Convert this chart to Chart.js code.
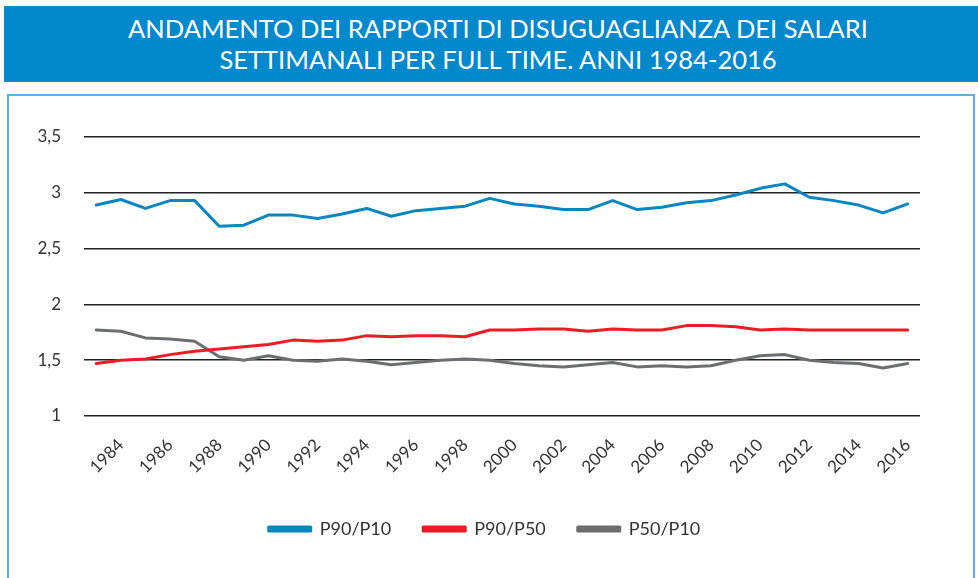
<!DOCTYPE html>
<html>
<head>
<meta charset="utf-8">
<script src="https://cdn.jsdelivr.net/npm/chart.js@4"></script>
<style>
  html, body { margin: 0; padding: 0; background: #fff; }
  body { width: 978px; height: 578px; position: relative; overflow: hidden; font-family: Lato, sans-serif; }
  #header {
    position: absolute; left: 4px; top: 6px; width: 974px; height: 76px;
    background: #0288cc; color: #fff; text-align: center;
    font-size: 25.5px; line-height: 31px; padding-top: 7px; box-sizing: border-box;
    padding-left: 14px;
  }
  #box {
    position: absolute; left: 7px; top: 94px; width: 968px; height: 500px;
    border: 2px solid #5ab2e4; box-sizing: border-box;
  }
  #myChart { position: absolute; left: 9px; top: 96px; }
</style>
</head>
<body>
<div id="header">ANDAMENTO DEI RAPPORTI DI DISUGUAGLIANZA DEI SALARI<br>SETTIMANALI PER FULL TIME. ANNI 1984-2016</div>
<div id="box"></div>
<canvas id="myChart" width="966" height="482"></canvas>
<script>
// years on the category axis (only even years get a label)
const years = [1983, 1984, 1985, 1986, 1987, 1988, 1989, 1990, 1991, 1992, 1993, 1994,
  1995, 1996, 1997, 1998, 1999, 2000, 2001, 2002, 2003, 2004, 2005, 2006,
  2007, 2008, 2009, 2010, 2011, 2012, 2013, 2014, 2015, 2016];

const p90p10 = [2.89, 2.94, 2.86, 2.93, 2.93, 2.70, 2.71, 2.80, 2.80, 2.77, 2.81, 2.86,
  2.79, 2.84, 2.86, 2.88, 2.95, 2.90, 2.88, 2.85, 2.85, 2.93, 2.85, 2.87,
  2.91, 2.93, 2.98, 3.04, 3.08, 2.96, 2.93, 2.89, 2.82, 2.90];

const p90p50 = [1.47, 1.50, 1.51, 1.55, 1.58, 1.60, 1.62, 1.64, 1.68, 1.67, 1.68, 1.72,
  1.71, 1.72, 1.72, 1.71, 1.77, 1.77, 1.78, 1.78, 1.76, 1.78, 1.77, 1.77,
  1.81, 1.81, 1.80, 1.77, 1.78, 1.77, 1.77, 1.77, 1.77, 1.77];

const p50p10 = [1.77, 1.76, 1.70, 1.69, 1.67, 1.53, 1.50, 1.54, 1.50, 1.49, 1.51, 1.49,
  1.46, 1.48, 1.50, 1.51, 1.50, 1.47, 1.45, 1.44, 1.46, 1.48, 1.44, 1.45,
  1.44, 1.45, 1.50, 1.54, 1.55, 1.50, 1.48, 1.47, 1.43, 1.47];

const seriesNames = ['P90/P10', 'P90/P50', 'P50/P10'];
const seriesColors = ['#0786c0', '#ec1c24', '#6d6e71'];

const yMin = 1, yMax = 3.5, yStep = 0.5;

function line(label, data, color) {
  return {
    label: label,
    data: data,
    borderColor: color,
    backgroundColor: color,
    borderWidth: 3,
    pointRadius: 0,
    tension: 0,
    borderCapStyle: 'round',
    borderJoinStyle: 'round'
  };
}

// legend in the original sits a bit right of the plot centre
const shiftLegend = {
  id: 'shiftLegend',
  afterLayout(chart) {
    chart.legend.left += 20;
    chart.legend.right += 20;
  }
};

new Chart(document.getElementById('myChart'), {
  type: 'line',
  data: {
    labels: years,
    datasets: [
      line(seriesNames[0], p90p10, seriesColors[0]),
      line(seriesNames[1], p90p50, seriesColors[1]),
      line(seriesNames[2], p50p10, seriesColors[2])
    ]
  },
  plugins: [shiftLegend],
  options: {
    responsive: false,
    animation: false,
    devicePixelRatio: 1,
    layout: { padding: { left: 0, right: 55, top: 41, bottom: 30 } },
    plugins: {
      tooltip: { enabled: false },
      legend: {
        position: 'bottom',
        labels: {
          boxWidth: 42,
          boxHeight: 4,
          padding: 32,
          color: '#333',
          font: { family: 'Lato', size: 18 }
        }
      }
    },
    scales: {
      x: {
        offset: true,
        grid: { display: false },
        border: { display: false },
        ticks: {
          autoSkip: false,
          maxRotation: 45,
          minRotation: 45,
          padding: 11,
          color: '#333',
          font: { family: 'Lato', size: 17 },
          callback: function (value, index) {
            const y = years[index];
            return y % 2 === 0 ? String(y) : '';
          }
        },
        afterFit: function (scale) { scale.height = 72; }
      },
      y: {
        min: yMin,
        max: yMax,
        border: { display: false },
        grid: { color: '#222', lineWidth: 1.5, drawTicks: false },
        ticks: {
          stepSize: yStep,
          padding: 23,
          color: '#333',
          font: { family: 'Lato', size: 17 },
          callback: function (value) { return String(value).replace('.', ','); }
        },
        afterFit: function (scale) { scale.width = 75; }
      }
    }
  }
});
</script>
</body>
</html>
